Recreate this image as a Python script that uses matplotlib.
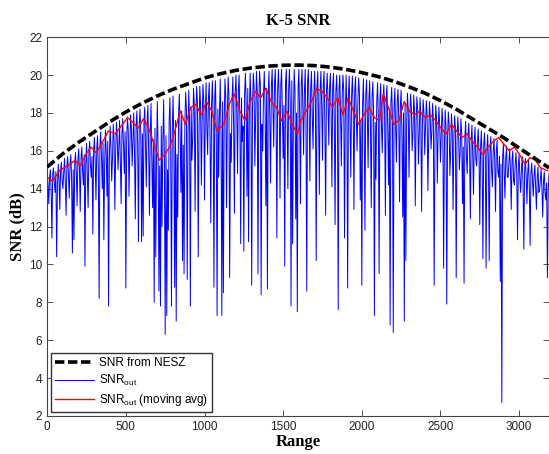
import numpy as np
import matplotlib
matplotlib.use('Agg')
import matplotlib.pyplot as plt

plt.rcParams['font.family'] = 'Liberation Sans'
plt.rcParams['mathtext.fontset'] = 'custom'
plt.rcParams['mathtext.rm'] = 'Liberation Sans'
plt.rcParams['mathtext.it'] = 'Liberation Sans'

# SNR a partir de NESZ (curva suave)
nesz_x = [0, 100, 200, 300, 400, 500, 600, 700, 800, 900, 1000, 1100, 1200, 1300, 1400, 1500,
          1600, 1700, 1800, 1900, 2000, 2100, 2200, 2300, 2400, 2500, 2600, 2700, 2800, 2900,
          3000, 3100, 3190]
nesz_snr = [15.15, 15.85, 16.45, 17.0, 17.55, 18.05, 18.5, 18.9, 19.25, 19.55, 19.85, 20.07,
            20.25, 20.38, 20.47, 20.52, 20.53, 20.5, 20.42, 20.3, 20.13, 19.93, 19.68, 19.38,
            19.05, 18.65, 18.2, 17.7, 17.2, 16.7, 16.15, 15.6, 15.1]

# SNR_out, muestras en celdas 0, 10, 20, ...
snr_out = [
    14.9, 13.2, 15.0, 11.4, 15.1, 13.8, 10.4, 15.3, 12.9, 15.4,
    14.0, 15.6, 12.6, 15.7, 13.5, 15.8, 10.6, 11.3, 15.9, 13.1,
    16.1, 12.8, 16.2, 14.2, 9.9, 16.4, 13.0, 16.5, 14.6, 11.6,
    16.7, 13.4, 16.8, 8.2, 17.0, 14.0, 11.3, 17.1, 13.6, 7.8,
    17.3, 14.4, 17.4, 12.9, 17.5, 15.0, 17.6, 13.2, 17.7, 14.8,
    8.75, 17.8, 13.6, 17.9, 15.2, 18.0, 12.4, 18.1, 11.2, 18.2,
    11.2, 11.5, 18.3, 14.1, 18.4, 12.6, 18.5, 13.0, 8.0, 10.4,
    18.6, 8.6, 7.8, 12.0, 18.7, 6.3, 7.3, 11.8, 18.8, 7.8,
    18.9, 8.8, 7.0, 12.5, 19.0, 13.8, 10.2, 9.5, 19.1, 9.2,
    19.2, 7.8, 15.5, 19.3, 12.8, 19.4, 10.4, 19.4, 14.2, 19.5,
    13.4, 19.6, 15.8, 19.6, 12.2, 19.7, 8.8, 19.7, 7.3, 14.6,
    19.8, 7.3, 8.5, 19.8, 13.0, 19.9, 9.3, 15.4, 19.9, 12.7,
    20.0, 14.8, 20.0, 11.1, 16.5, 10.7, 20.1, 13.6, 11.2, 20.1,
    8.9, 20.1, 15.2, 20.2, 9.5, 20.2, 8.4, 16.0, 20.2, 13.1,
    8.7, 20.2, 14.3, 20.3, 16.2, 20.3, 11.4, 20.3, 13.5, 20.3,
    15.6, 9.9, 20.3, 14.0, 20.3, 7.8, 11.1, 20.3, 12.4, 7.5,
    20.3, 13.2, 20.3, 15.8, 20.3, 8.6, 20.3, 14.4, 20.2, 16.1,
    20.2, 10.2, 20.2, 13.7, 20.2, 15.5, 20.2, 12.6, 20.1, 16.3,
    20.1, 14.1, 20.1, 12.1, 20.0, 7.6, 20.0, 15.2, 20.0, 11.4,
    20.0, 8.75, 19.95, 14.6, 19.95, 12.9, 19.9, 16.0, 19.85, 13.4,
    8.9, 19.8, 11.8, 19.75, 15.1, 19.7, 13.0, 19.65, 7.3, 14.5,
    19.6, 9.5, 19.55, 15.9, 19.5, 12.6, 19.45, 14.2, 6.8, 19.35,
    6.4, 19.3, 15.4, 19.25, 13.3, 19.2, 12.5, 7.0, 10.2, 19.05,
    14.6, 19.0, 16.0, 18.95, 13.1, 18.85, 15.3, 18.8, 12.8, 18.7,
    15.8, 18.65, 13.9, 18.6, 16.1, 18.5, 8.9, 18.4, 14.3, 18.3,
    15.4, 18.25, 9.8, 18.15, 7.9, 18.05, 14.7, 17.95, 12.9, 17.85,
    9.3, 17.8, 15.0, 17.7, 13.2, 9.0, 17.55, 14.8, 17.45, 12.4,
    17.35, 13.7, 17.25, 15.2, 17.15, 12.1, 17.05, 10.3, 16.95, 9.8,
    16.85, 10.2, 16.75, 14.1, 16.65, 12.8, 16.55, 14.6, 9.1, 2.7,
    16.35, 13.5, 16.25, 14.6, 16.1, 12.9, 16.0, 14.2, 15.9, 11.3,
    15.8, 13.8, 15.7, 10.8, 15.6, 13.2, 15.5, 11.0, 15.35, 13.6,
    15.25, 12.9, 15.15, 13.9, 15.05, 12.5, 14.9, 13.4, 9.3, 14.8,
]
# SNR_out, muestras en celdas 5, 15, 25, ...
snr_out_half = [
    14.2, 14.6, 13.9, 14.8, 14.3, 14.9, 14.1, 14.5, 15.0, 14.4,
    14.9, 14.3, 15.2, 14.7, 15.3, 14.6, 15.0, 15.4, 14.8, 15.5,
    15.0, 15.6, 14.9, 15.8, 15.3, 14.8, 15.9, 15.2, 15.7, 16.0,
    15.4, 16.1, 15.0, 16.3, 15.7, 16.4, 15.2, 16.0, 16.5, 15.6,
    16.2, 15.6, 16.6, 15.9, 16.8, 16.1, 15.4, 16.9, 16.3, 17.0,
    16.5, 17.1, 16.0, 17.2, 16.6, 15.8, 17.3, 16.4, 17.4, 16.8,
    16.9, 17.5, 16.2, 17.6, 16.0, 17.0, 15.5, 16.6, 17.2, 15.8,
    16.0, 15.2, 17.3, 16.4, 15.6, 16.8, 15.0, 17.5, 16.2, 17.0,
    16.5, 17.6, 15.8, 17.9, 16.9, 18.1, 16.3, 17.4, 18.2, 16.8,
    17.5, 18.3, 16.7, 18.5, 17.8, 18.6, 17.0, 18.4, 17.6, 18.7,
    18.0, 17.2, 18.8, 16.8, 18.5, 17.6, 18.9, 16.5, 18.2, 17.9,
    17.0, 18.6, 17.5, 18.9, 17.8, 19.0, 16.9, 18.7, 17.4, 19.1,
    18.1, 19.2, 17.6, 18.8, 17.3, 19.0, 18.4, 19.3, 17.9, 18.6,
    18.2, 19.4, 17.7, 19.1, 18.5, 19.5, 17.4, 19.0, 18.3, 19.3,
    18.9, 17.6, 19.4, 18.2, 19.6, 17.9, 19.2, 18.6, 19.5, 17.8,
    18.4, 19.6, 17.8, 19.3, 18.5, 19.7, 17.6, 19.2, 18.0, 19.4,
    17.7, 19.5, 18.3, 19.1, 17.5, 19.6, 18.1, 19.3, 17.9, 19.0,
    18.6, 19.4, 17.8, 19.2, 18.3, 19.5, 17.5, 19.0, 18.7, 19.3,
    18.0, 19.4, 17.6, 19.1, 18.4, 19.3, 17.9, 18.8, 19.2, 17.7,
    18.2, 19.0, 17.5, 18.9, 18.3, 19.2, 17.8, 18.6, 19.0, 17.6,
    18.5, 17.4, 18.9, 17.9, 18.7, 17.2, 18.8, 18.0, 17.5, 18.6,
    17.8, 18.7, 17.3, 18.5, 17.9, 18.8, 17.1, 18.2, 18.6, 17.6,
    18.3, 17.2, 18.6, 17.7, 18.4, 16.9, 18.0, 18.5, 17.4, 18.2,
    17.6, 18.3, 16.9, 18.1, 17.5, 18.2, 16.8, 17.9, 17.3, 18.0,
    17.2, 17.9, 16.6, 17.8, 17.0, 17.6, 16.5, 17.7, 16.9, 17.4,
    16.8, 17.5, 16.2, 17.3, 16.7, 17.4, 16.0, 17.1, 16.6, 17.2,
    16.4, 17.0, 15.9, 16.9, 16.2, 16.7, 15.7, 16.8, 16.1, 16.5,
    15.8, 16.5, 15.5, 16.4, 15.9, 16.2, 15.4, 16.3, 15.7, 16.0,
    15.4, 16.1, 15.0, 15.9, 15.5, 16.0, 14.9, 15.7, 15.3, 15.6,
    14.9, 15.6, 14.6, 15.4, 15.0, 15.5, 14.4, 15.3, 14.8, 15.2,
    14.5, 15.1, 14.2, 14.9, 14.6, 14.9, 14.0, 14.8, 14.4, 14.7,
    14.1, 14.6, 13.8, 14.5, 14.0, 14.4, 13.7, 14.3, 13.9, 14.2,
]

# promedio movil
avg_x = [0, 33, 78, 145, 178, 211, 245, 278, 311, 345, 389, 434, 478, 512, 545, 578, 612, 645,
         679, 712, 745, 779, 812, 845, 879, 912, 945, 979, 1012, 1046, 1079, 1123, 1157, 1190,
         1224, 1257, 1290, 1324, 1357, 1390, 1424, 1457, 1490, 1524, 1557, 1591, 1613, 1646,
         1680, 1713, 1746, 1780, 1813, 1847, 1880, 1913, 1947, 1980, 2013, 2047, 2080, 2113,
         2136, 2169, 2202, 2236, 2269, 2303, 2336, 2369, 2403, 2436, 2469, 2503, 2536, 2570,
         2603, 2636, 2670, 2703, 2736, 2770, 2803, 2836, 2870, 2903, 2937, 2970, 3003, 3037,
         3070, 3103, 3137, 3181]
avg_snr = [14.6, 14.4, 14.95, 15.3, 15.5, 15.2, 15.8, 16.2, 15.9, 16.35, 17.05, 16.9, 17.4,
           17.75, 17.5, 17.2, 17.7, 17.2, 16.35, 15.5, 15.8, 16.2, 17.05, 18.1, 17.4, 18.3,
           18.45, 17.9, 18.6, 18.1, 17.05, 17.4, 18.45, 19.0, 18.1, 17.6, 18.6, 19.15, 18.8,
           19.3, 18.6, 18.3, 17.6, 18.1, 17.4, 16.9, 17.6, 18.1, 18.6, 19.3, 19.15, 18.8,
           18.3, 18.8, 17.9, 18.8, 18.1, 17.4, 17.9, 18.3, 17.75, 17.6, 19.0, 18.3, 17.4,
           17.6, 18.6, 18.1, 17.9, 18.1, 17.75, 17.9, 17.6, 17.2, 16.9, 17.4, 17.05, 16.7,
           16.9, 16.5, 16.2, 15.8, 16.2, 16.5, 16.7, 16.35, 16.0, 16.2, 15.8, 15.3, 15.65,
           15.5, 15.1, 14.95]

# juntar las dos tablas de SNR_out ordenadas por rango
out_x = np.concatenate([np.arange(len(snr_out)) * 10, np.arange(len(snr_out_half)) * 10 + 5])
out_y = np.concatenate([snr_out, snr_out_half])
orden = np.argsort(out_x)
out_x, out_y = out_x[orden], out_y[orden]

fig = plt.figure(figsize=(5.49, 4.54), dpi=100)
ax = fig.add_axes([0.086, 0.084, 0.914, 0.834])

ax.plot(nesz_x, nesz_snr, color='black', lw=2.6, linestyle=(0, (2.6, 1.0)),
        label='SNR from NESZ', zorder=4)
ax.plot(out_x, out_y, color='#0000ff', lw=0.7, label=r'SNR$_{\mathrm{out}}$', zorder=2)
ax.plot(avg_x, avg_snr, color='red', lw=1.0, label=r'SNR$_{\mathrm{out}}$ (moving avg)', zorder=3)

ax.set_xlim(0, 3190)
ax.set_ylim(2, 22)
ax.set_xticks([0, 500, 1000, 1500, 2000, 2500, 3000])
ax.set_yticks(range(2, 23, 2))
ax.tick_params(direction='in', top=True, right=True, length=4, width=0.6,
               labelsize=8.5, colors='#333333', labelcolor='#222222')
for s in ax.spines.values():
    s.set_color('#444444')
    s.set_linewidth(0.8)

ax.set_title('K-5 SNR', fontfamily='Liberation Serif', fontweight='bold', fontsize=12, pad=9)
ax.set_xlabel('Range', fontfamily='Liberation Serif', fontweight='bold', fontsize=12, labelpad=1)
ax.set_ylabel('SNR (dB)', fontfamily='Liberation Serif', fontweight='bold', fontsize=12, labelpad=3)

leg = ax.legend(loc='lower left', fontsize=8.5, handlelength=3.3, fancybox=False,
                framealpha=1, edgecolor='#333333', borderaxespad=0.3, labelspacing=0.35,
                borderpad=0.35, handletextpad=0.4)
leg.get_frame().set_linewidth(1.0)

plt.savefig('out.png', dpi=100)
